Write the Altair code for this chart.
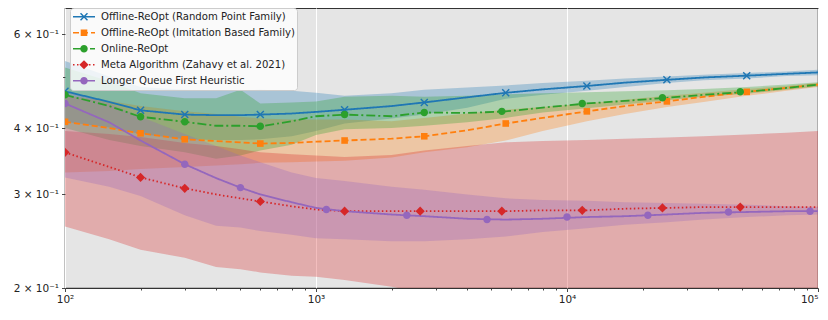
import altair as alt
import pandas as pd

SERIES = [
    "Offline-ReOpt (Random Point Family)",
    "Offline-ReOpt (Imitation Based Family)",
    "Online-ReOpt",
    "Meta Algorithm (Zahavy et al. 2021)",
    "Longer Queue First Heuristic",
]
MARKER_KEYS = ["m1", "m2", "m3", "m4", "m5"]
COLORS = ["#1f77b4", "#ff7f0e", "#2ca02c", "#d62728", "#9467bd"]
DASHES = [[1, 0], [6, 3], [9, 3, 2, 3], [1.5, 2.5], [1, 0]]
SHAPES = [
    "M0.272,-0.364L0.364,-0.272L0.092,0L0.364,0.272L0.272,0.364L0,0.092L-0.272,0.364"
    "L-0.364,0.272L-0.092,0L-0.364,-0.272L-0.272,-0.364L0,-0.092Z",
    "M-0.3,-0.3H0.3V0.3H-0.3Z",
    "M0.34,0A0.34,0.34 0 1,1 -0.34,0A0.34,0.34 0 1,1 0.34,0Z",
    "M0,-0.42L0.42,0L0,0.42L-0.42,0Z",
    "M0.34,0A0.34,0.34 0 1,1 -0.34,0A0.34,0.34 0 1,1 0.34,0Z",
]

# common sample sizes for the curves and bands
GRID = [100, 150, 200, 300, 400, 500, 600, 800, 1000, 1300, 2000, 2700, 4000,
        5700, 8000, 12000, 17000, 25000, 35000, 52000, 75000, 100000]

blue_mean = [.469, .448, .432, .424, .423, .423, .424, .426, .429, .433, .440, .447, .457,
             .466, .473, .480, .487, .493, .498, .502, .506, .509]
blue_hi = [.535, .500, .478, .472, .470, .471, .472, .470, .466, .460, .465, .472, .477,
           .481, .486, .491, .496, .500, .504, .508, .511, .515]
blue_lo = [.411, .401, .390, .381, .380, .380, .381, .386, .395, .408, .417, .424, .437,
           .454, .462, .470, .478, .486, .492, .496, .501, .503]

orange_mean = [.411, .400, .391, .381, .378, .376, .374, .375, .377, .379, .382, .386, .396,
               .408, .418, .430, .440, .449, .458, .468, .476, .483]
orange_hi = [.460, .450, .440, .430, .425, .420, .417, .415, .415, .415, .412, .418, .426,
             .433, .438, .445, .452, .460, .466, .474, .480, .487]
orange_lo = [.330, .332, .335, .338, .340, .342, .344, .345, .346, .347, .352, .360, .368,
             .379, .395, .412, .425, .438, .448, .460, .470, .478]

green_mean = [.462, .440, .420, .411, .404, .404, .403, .412, .421, .424, .421, .428, .427,
              .430, .437, .445, .450, .456, .462, .468, .476, .483]
green_hi = [.520, .490, .465, .455, .455, .472, .445, .447, .449, .458, .460, .458, .460,
            .463, .465, .467, .469, .471, .474, .478, .483, .488]
green_lo = [.400, .380, .370, .360, .350, .355, .363, .372, .388, .398, .400, .404, .410,
            .418, .428, .436, .443, .451, .458, .464, .472, .479]

red_mean = [.360, .338, .323, .308, .300, .295, .291, .285, .281, .279, .279, .279, .279,
            .279, .280, .280, .282, .283, .284, .284, .284, .284]
red_hi = [.395, .390, .385, .375, .370, .365, .360, .357, .355, .353, .356, .363, .370,
          .376, .378, .380, .382, .384, .386, .389, .392, .395]
red_lo = [.261, .247, .236, .228, .219, .217, .214, .211, .210, .207, .201, .196, .190,
          .190, .190, .190, .190, .190, .190, .190, .190, .190]

purple_mean = [.445, .410, .379, .342, .322, .309, .300, .290, .283, .279, .275, .273, .270,
               .269, .270, .272, .273, .275, .277, .278, .279, .279]
purple_hi = [.470, .445, .420, .390, .370, .355, .345, .330, .322, .318, .310, .306, .300,
             .295, .293, .292, .290, .289, .288, .287, .285, .284]
purple_lo = [.323, .310, .298, .274, .262, .260, .256, .252, .248, .247, .245, .245, .247,
             .250, .255, .259, .263, .266, .269, .272, .274, .275]

# marker positions
blue_mk_x = [100, 200, 300, 600, 1300, 2700, 5700, 12000, 25000, 52000]
blue_mk_y = [.469, .432, .424, .424, .433, .447, .466, .480, .493, .502]
orange_mk_x = [100, 200, 300, 600, 1300, 2700, 5700, 12000, 25000, 52000]
orange_mk_y = [.411, .391, .381, .374, .379, .386, .408, .430, .449, .468]
green_mk_x = [100, 200, 300, 600, 1300, 2700, 5500, 11500, 24000, 49000]
green_mk_y = [.462, .420, .411, .403, .424, .428, .430, .445, .456, .468]
red_mk_x = [100, 200, 300, 600, 1300, 2600, 5500, 11500, 24000, 49000]
red_mk_y = [.360, .323, .308, .291, .279, .279, .279, .280, .283, .284]
purple_mk_x = [100, 300, 500, 1100, 2300, 4800, 10000, 21000, 44000, 93000]
purple_mk_y = [.445, .342, .309, .281, .274, .269, .272, .274, .278, .279]

curves = [
    (blue_mean, blue_lo, blue_hi),
    (orange_mean, orange_lo, orange_hi),
    (green_mean, green_lo, green_hi),
    (red_mean, red_lo, red_hi),
    (purple_mean, purple_lo, purple_hi),
]
markers = [
    (blue_mk_x, blue_mk_y),
    (orange_mk_x, orange_mk_y),
    (green_mk_x, green_mk_y),
    (red_mk_x, red_mk_y),
    (purple_mk_x, purple_mk_y),
]

rows = []
for s, (m, lo, hi) in zip(SERIES, curves):
    for i, xv in enumerate(GRID):
        rows.append({"series": s, "x": xv, "mean": m[i], "lo": lo[i], "hi": hi[i]})
df_curve = pd.DataFrame(rows)

mrows = []
for s, k, (mx, my) in zip(SERIES, MARKER_KEYS, markers):
    for xv, yv in zip(mx, my):
        mrows.append({"series": s, "mk": k, "x": xv, "y": yv})
df_mk = pd.DataFrame(mrows)

FONT = "DejaVu Sans"
X_MAJOR = [100, 1000, 10000, 100000]
X_MINOR = [m * d for d in [100, 1000, 10000] for m in range(2, 10)]
MAJOR_TEST = "indexof([100, 1000, 10000, 100000], datum.value) >= 0"

x_axis = alt.Axis(
    values=X_MAJOR + X_MINOR,
    labelExpr="datum.value == 100 ? '10²' : datum.value == 1000 ? '10³' : "
              "datum.value == 10000 ? '10⁴' : datum.value == 100000 ? '10⁵' : ''",
    tickSize={"condition": {"test": MAJOR_TEST, "value": 3.5}, "value": 2},
    gridOpacity={"condition": {"test": MAJOR_TEST, "value": 1}, "value": 0},
    labelAlign={"condition": {"test": "datum.value >= 100000", "value": "right"},
                "value": "center"},
    grid=True, gridColor="white", gridWidth=1,
    domain=False, tickColor="#333333", tickWidth=0.9,
    labelFont=FONT, labelFontSize=10.5, labelColor="#222222", labelPadding=3,
    labelFlush=False, labelOverlap=False, title=None,
)
y_axis = alt.Axis(
    values=[0.2, 0.3, 0.4, 0.5, 0.6],
    labelExpr="abs(datum.value - 0.5) < 0.01 ? '' : format(datum.value * 10, '.0f') + ' × 10⁻¹'",
    tickSize={"condition": {"test": "abs(datum.value - 0.5) < 0.01", "value": 2.5}, "value": 3.5},
    grid=False, domain=False, tickColor="#333333", tickWidth=0.9,
    labelFont=FONT, labelFontSize=10.5, labelColor="#222222", labelPadding=3,
    labelFlush=False, labelOverlap=False, title=None,
)

xs = alt.Scale(type="log", domain=[100, 100000], nice=False)
ys = alt.Scale(type="log", domain=[0.2, 0.673], nice=False)

LEG_COMMON = dict(
    orient="none", legendX=5, legendY=0, padding=2, title=None, rowPadding=2,
    symbolSize=484, symbolStrokeWidth=1.5, clipHeight=13.5,
    labelOffset=5, labelFont=FONT, labelFontSize=10.1, labelLimit=400,
)
legend_a = alt.Legend(
    symbolType="stroke", labelColor="#222222",
    fillColor="rgba(255,255,255,0.8)", strokeColor="#cccccc", cornerRadius=3,
    **LEG_COMMON,
)
legend_b = alt.Legend(symbolOpacity=1, labelExpr="''", **LEG_COMMON)

bands = alt.Chart(df_curve).mark_area(opacity=0.3, clip=True).encode(
    x=alt.X("x:Q", scale=xs, axis=x_axis),
    y=alt.Y("lo:Q", scale=ys, axis=y_axis),
    y2="hi:Q",
    fill=alt.Fill("series:N", scale=alt.Scale(domain=SERIES, range=COLORS), legend=None),
)

lines = alt.Chart(df_curve).mark_line(strokeWidth=1.8, clip=True).encode(
    x=alt.X("x:Q", scale=xs),
    y=alt.Y("mean:Q", scale=ys),
    color=alt.Color("series:N", scale=alt.Scale(domain=SERIES, range=COLORS), legend=legend_a),
    strokeDash=alt.StrokeDash("series:N", scale=alt.Scale(domain=SERIES, range=DASHES),
                              legend=legend_a),
)

points = alt.Chart(df_mk).mark_point(filled=True, size=484, opacity=1, clip=True).encode(
    x=alt.X("x:Q", scale=xs),
    y=alt.Y("y:Q", scale=ys),
    shape=alt.Shape("mk:N", scale=alt.Scale(domain=MARKER_KEYS, range=SHAPES), legend=legend_b),
    color=alt.Color("mk:N", scale=alt.Scale(domain=MARKER_KEYS, range=COLORS), legend=legend_b),
)

chart = alt.layer(bands, lines, points).resolve_scale(
    fill="independent", color="independent", shape="independent", strokeDash="independent"
).properties(
    width=753, height=280,
    autosize=alt.AutoSizeParams(type="none"),
    padding={"left": 57, "top": 0, "right": 2, "bottom": 24},
).configure(font=FONT).configure_view(
    fill="#e5e5e5", stroke="#333333", strokeWidth=1.2,
)

chart.save("out.html", embed_options={"renderer": "svg", "actions": False})
